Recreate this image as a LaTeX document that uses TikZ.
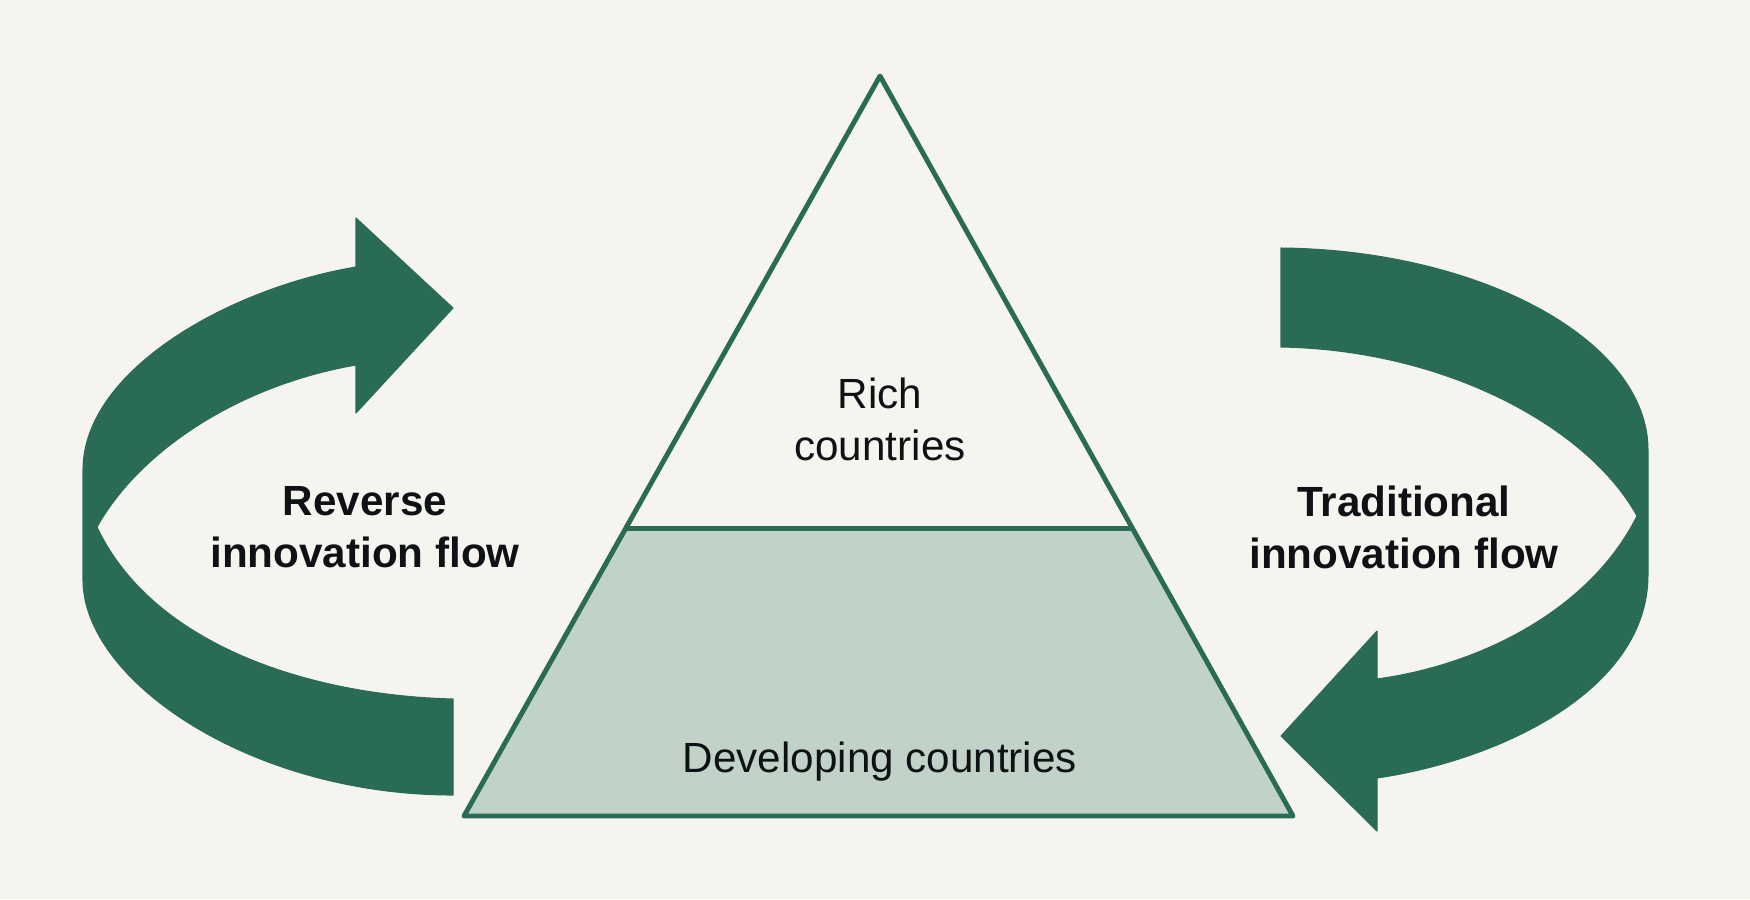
\documentclass[tikz,border=0pt]{standalone}
\usepackage{fontspec}
\setmainfont{Liberation Sans}
\definecolor{flowgreen}{RGB}{42,107,86}
\definecolor{lowfill}{RGB}{193,210,200}
\definecolor{paper}{RGB}{245,244,239}
\definecolor{ink}{RGB}{14,18,20}
\tikzset{flow/.style = {fill=flowgreen, draw=flowgreen, line width=0.3pt, line join=round}}
\tikzset{tri/.style = {draw=flowgreen, line width=1.4pt, line join=round}}
\tikzset{lbl/.style = {text=ink, align=center, inner sep=0, font=\fontsize{12}{14.8}\selectfont}}
\tikzset{boldlbl/.style = {lbl, font=\fontsize{12}{14.8}\selectfont\bfseries}}
\usetikzlibrary{calc}

\begin{document}
\begin{tikzpicture}[x=0.01cm, y=-0.01cm]
\fill[paper] (0,0) rectangle (1750,899);
\useasboundingbox (0,0) rectangle (1750,899);
\coordinate (apex) at (880,76);
\coordinate (bl) at (464,816);
\coordinate (br) at (1293,816);
\coordinate (ml) at ($(apex)!0.612!(bl)$);
\coordinate (mr) at ($(apex)!0.612!(br)$);
\fill[lowfill] (ml) -- (bl) -- (br) -- (mr) -- cycle;
\draw[tri] (apex) -- (bl) -- (br) -- cycle;
\draw[tri] (ml) -- (mr);
% reverse flow, left
\path[flow] (356,267) .. controls (230,288) and (83,370) .. (83,470) -- (83,580)
  .. controls (83,680) and (250,795) .. (453,795) -- (453,699)
  .. controls (300,695) and (150,640) .. (97,527)
  .. controls (140,450) and (240,385) .. (356,365)
  -- (356,413) -- (453,308) -- (356,218) -- cycle;
% traditional flow, right
\path[flow] (1281,248) .. controls (1480,250) and (1648,340) .. (1648,450) -- (1648,575)
  .. controls (1648,690) and (1500,760) .. (1377,778)
  -- (1377,831) -- (1281,736) -- (1377,631) -- (1377,679)
  .. controls (1480,665) and (1590,610) .. (1637,516)
  .. controls (1590,430) and (1450,350) .. (1281,347) -- cycle;
\node[lbl] (rich) at (880,419) {Rich\\countries};
\node[lbl] (dev) at (880,762) {Developing countries};
\node[boldlbl] (rev) at (365,527) {Reverse\\innovation flow};
\node[boldlbl] (trad) at (1404,527) {Traditional\\innovation flow};
\end{tikzpicture}
\end{document}
